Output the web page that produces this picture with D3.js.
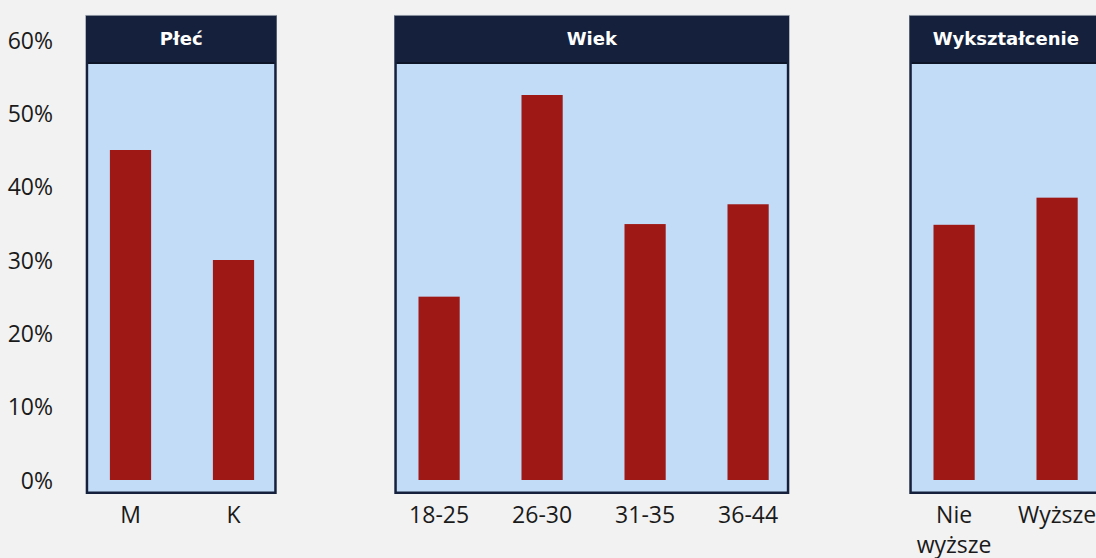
<!DOCTYPE html>
<html>
<head>
<meta charset="utf-8">
<script src="https://cdn.jsdelivr.net/npm/d3@7"></script>
<style>
  html, body { margin: 0; padding: 0; background: #f2f2f2; }
  svg { display: block; }
</style>
</head>
<body>
<svg id="chart" width="1096" height="558"></svg>
<script>
// Survey shares by respondent group
const yTicks = [0, 0.1, 0.2, 0.3, 0.4, 0.5, 0.6];

const genderTitle = "Płeć";
const genderCategories = ["M", "K"];
const genderValues = [0.45, 0.30];

const ageTitle = "Wiek";
const ageCategories = ["18-25", "26-30", "31-35", "36-44"];
const ageValues = [0.25, 0.525, 0.349, 0.376];

const eduTitle = "Wykształcenie";
const eduCategories = [["Nie", "wyższe"], ["Wyższe"]];
const eduValues = [0.348, 0.385];

const panels = [
  { title: genderTitle, cats: genderCategories.map(c => [c]), vals: genderValues, left: 85.7, width: 191 },
  { title: ageTitle, cats: ageCategories.map(c => [c]), vals: ageValues, left: 394.3, width: 395 },
  { title: eduTitle, cats: eduCategories, vals: eduValues, left: 909.3, width: 193 }
];

const C = {
  bg: "#f2f2f2",
  navy: "#15213c",
  navyDark: "#0d1629",
  plot: "#c2dbf7",
  bar: "#9e1915",
  text: "#1a1a1a"
};

const svg = d3.select("#chart");
svg.append("rect").attr("width", 1096).attr("height", 558).attr("fill", C.bg);

const y = d3.scaleLinear().domain([0, 0.6]).range([480, 40]);

// Shared percentage axis on the left
const yAxis = svg.append("g")
  .attr("transform", "translate(53,0)")
  .call(d3.axisLeft(y).tickValues(yTicks).tickFormat(d3.format(".0%")).tickSize(0).tickPadding(0));
yAxis.select(".domain").remove();
yAxis.selectAll("text")
  .attr("font-family", "'Open Sans', sans-serif")
  .attr("font-size", 23)
  .attr("fill", C.text)
  .attr("dy", "0.35em");

const frameTop = 15, frameBottom = 494, headerBottom = 63, border = 2.5;
const step = 103;

panels.forEach(p => {
  const g = svg.append("g");
  // frame with header band
  g.append("rect")
    .attr("x", p.left).attr("y", frameTop)
    .attr("width", p.width).attr("height", frameBottom - frameTop)
    .attr("fill", C.navy);
  g.append("line")
    .attr("x1", p.left).attr("x2", p.left + p.width)
    .attr("y1", frameTop + 0.4).attr("y2", frameTop + 0.4)
    .attr("stroke", "#b8bcc4").attr("stroke-width", 0.8);
  g.append("rect")
    .attr("x", p.left + border).attr("y", headerBottom - 1)
    .attr("width", p.width - 2 * border).attr("height", 2)
    .attr("fill", C.navyDark);
  g.append("rect")
    .attr("x", p.left + border).attr("y", headerBottom + 1)
    .attr("width", p.width - 2 * border).attr("height", frameBottom - border - headerBottom - 1)
    .attr("fill", C.plot);
  g.append("text")
    .attr("x", p.left + p.width / 2).attr("y", (frameTop + headerBottom) / 2)
    .attr("text-anchor", "middle").attr("dy", "0.36em")
    .attr("font-family", "'DejaVu Sans', Verdana, sans-serif")
    .attr("font-weight", "bold").attr("font-size", 18)
    .attr("fill", "#ffffff")
    .text(p.title);

  const keys = p.cats.map(c => c.join(" "));
  const r0 = p.left - 6.7;
  const x = d3.scaleBand().domain(keys)
    .range([r0, r0 + keys.length * step])
    .paddingInner(0.6).paddingOuter(0.3);

  g.selectAll("rect.bar")
    .data(p.vals.map((v, i) => ({ k: keys[i], v })))
    .join("rect")
    .attr("class", "bar")
    .attr("x", d => x(d.k))
    .attr("width", x.bandwidth())
    .attr("y", d => y(d.v))
    .attr("height", d => y(0) - y(d.v))
    .attr("fill", C.bar);

  const xAxis = g.append("g")
    .attr("transform", `translate(0,${frameBottom})`)
    .call(d3.axisBottom(x).tickSize(0).tickPadding(0).tickFormat(""));
  xAxis.select(".domain").remove();
  xAxis.selectAll(".tick").each(function (k, i) {
    const t = d3.select(this).append("text")
      .attr("text-anchor", "middle")
      .attr("font-family", "'Open Sans', sans-serif")
      .attr("font-size", 23)
      .attr("fill", C.text);
    p.cats[i].forEach((line, j) => {
      t.append("tspan").attr("x", 0).attr("y", 21 + j * 30).attr("dy", "0.35em").text(line);
    });
  });
});
</script>
</body>
</html>
